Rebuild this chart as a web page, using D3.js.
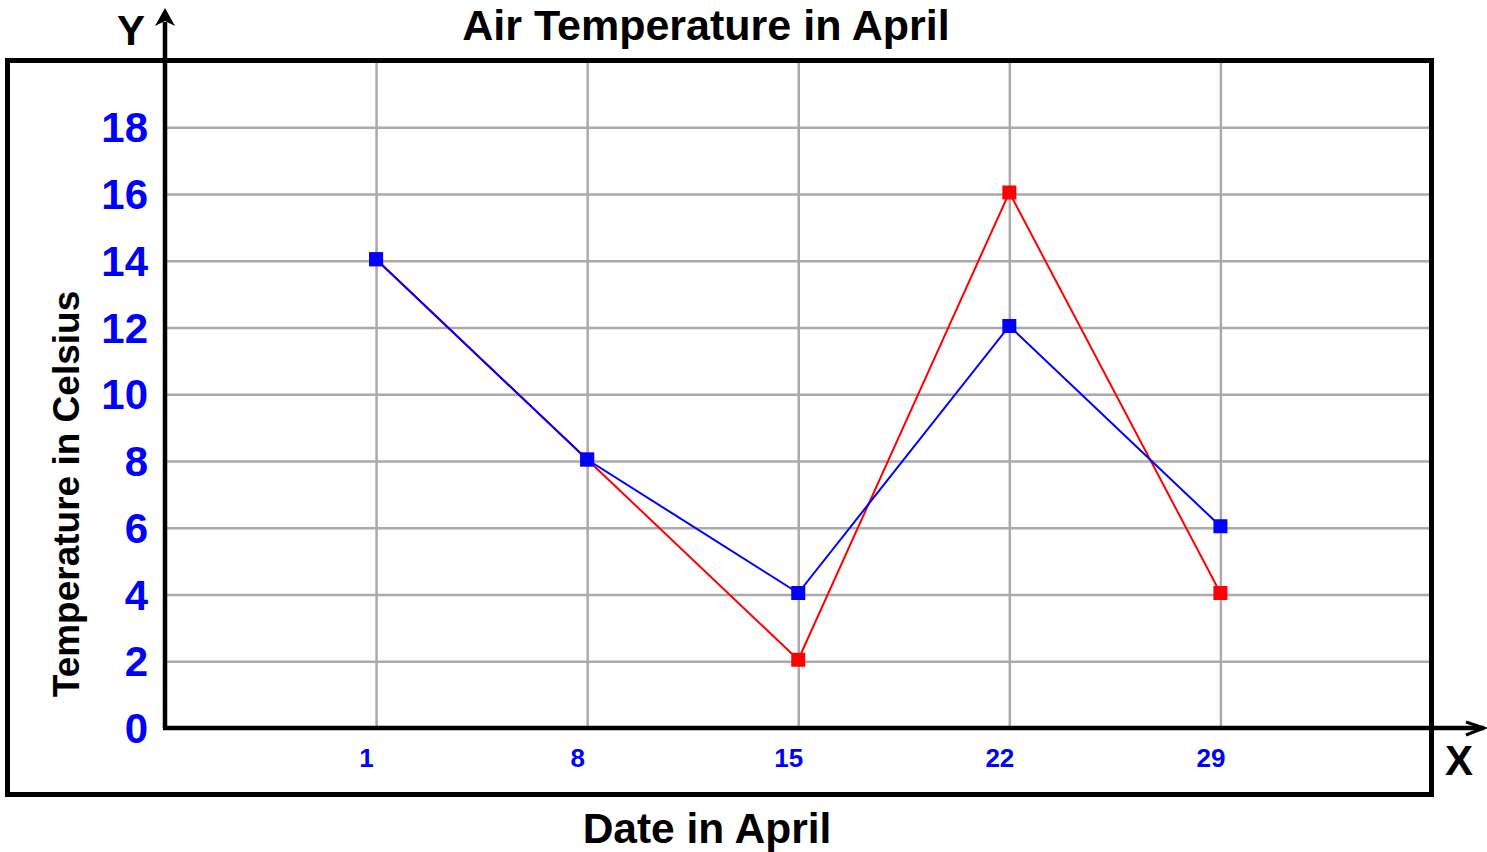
<!DOCTYPE html>
<html>
<head>
<meta charset="utf-8">
<script src="https://cdn.jsdelivr.net/npm/d3@7"></script>
<style>
  body { margin: 0; background: #fff; }
  svg { font-family: "Liberation Sans", Arial, sans-serif; font-weight: bold; }
</style>
</head>
<body>
<svg width="1487" height="852"></svg>
<script>
  const days = [1, 8, 15, 22, 29];
  const redTemps = [14, 8, 2, 16, 4];
  const blueTemps = [14, 8, 4, 12, 6];
  const yTicks = [0, 2, 4, 6, 8, 10, 12, 14, 16, 18];
  const gridDays = [1, 8, 15, 22, 29];

  const titleText = 'Air Temperature in April';
  const xAxisLabelText = 'Date in April';
  const yAxisLabelText = 'Temperature in Celsius';

  const svg = d3.select('svg');

  const plotLeft = 165, plotRight = 1431.5, plotTop = 60.5, plotBottom = 728;

  const xScale = d3.scaleLinear().domain([-6, 36]).range([plotLeft, plotRight]);
  const yScale = d3.scaleLinear().domain([0, 20]).range([plotBottom, plotTop]);

  // grid
  const gridX = svg.append('g')
    .attr('transform', `translate(0,${plotBottom})`)
    .call(d3.axisBottom(xScale).tickValues(gridDays).tickSize(-(plotBottom - plotTop)).tickFormat(''));
  gridX.select('.domain').remove();
  gridX.selectAll('.tick line').attr('stroke', '#aaa').attr('stroke-width', 2.5);

  const gridY = svg.append('g')
    .attr('transform', `translate(${plotLeft},0)`)
    .call(d3.axisLeft(yScale).tickValues(yTicks.filter(d => d > 0)).tickSize(-(plotRight - plotLeft)).tickFormat(''));
  gridY.select('.domain').remove();
  gridY.selectAll('.tick line').attr('stroke', '#aaa').attr('stroke-width', 2.5);

  // frame
  svg.append('rect')
    .attr('x', 7.5).attr('y', plotTop)
    .attr('width', plotRight - 7.5).attr('height', 794.5 - plotTop)
    .attr('fill', 'none').attr('stroke', '#000').attr('stroke-width', 5);

  // tick labels
  const yAxisG = svg.append('g')
    .attr('transform', `translate(${plotLeft},0)`)
    .call(d3.axisLeft(yScale).tickValues(yTicks).tickSize(0).tickPadding(17));
  yAxisG.select('.domain').remove();
  yAxisG.selectAll('text')
    .attr('fill', '#0000ff').style('font-size', '42px').style('font-weight', 'bold')
    .attr('dy', '0.35em');

  const xAxisG = svg.append('g')
    .attr('transform', `translate(0,${plotBottom})`)
    .call(d3.axisBottom(xScale).tickValues(days).tickSize(0).tickPadding(21));
  xAxisG.select('.domain').remove();
  xAxisG.selectAll('text')
    .attr('fill', '#0000ff').style('font-size', '26px').style('font-weight', 'bold')
    .attr('dx', -10);

  // axes lines with arrows
  svg.append('line')
    .attr('x1', plotLeft).attr('y1', plotBottom).attr('x2', plotLeft).attr('y2', 22)
    .attr('stroke', '#000').attr('stroke-width', 4.5);
  svg.append('path')
    .attr('d', `M${plotLeft},8 L${plotLeft + 10},26 L${plotLeft},21 L${plotLeft - 10},26 Z`)
    .attr('fill', '#000');
  svg.append('line')
    .attr('x1', plotLeft - 2).attr('y1', plotBottom).attr('x2', 1484).attr('y2', plotBottom)
    .attr('stroke', '#000').attr('stroke-width', 4.5);
  svg.append('path')
    .attr('d', `M1466,${plotBottom - 6} L1484,${plotBottom} L1466,${plotBottom + 7}`)
    .attr('fill', 'none').attr('stroke', '#000').attr('stroke-width', 3);

  // series
  const line = d3.line().x(d => xScale(d[0])).y(d => yScale(d[1]) - 1.5);
  const series = [
    { color: '#ff0000', values: redTemps },
    { color: '#0000ff', values: blueTemps }
  ];
  series.forEach(s => {
    const pts = days.map((d, i) => [d, s.values[i]]);
    svg.append('path')
      .attr('d', line(pts))
      .attr('fill', 'none').attr('stroke', s.color).attr('stroke-width', 2);
    svg.append('g').selectAll('rect').data(pts)
      .enter().append('rect')
        .attr('x', d => xScale(d[0]) - 7)
        .attr('y', d => yScale(d[1]) - 8.5)
        .attr('width', 14).attr('height', 14)
        .attr('fill', s.color);
  });

  // labels
  svg.append('text')
    .attr('x', 706).attr('y', 40)
    .attr('text-anchor', 'middle').style('font-size', '43px')
    .text(titleText);
  svg.append('text')
    .attr('x', 707).attr('y', 843)
    .attr('text-anchor', 'middle').style('font-size', '42.5px')
    .text(xAxisLabelText);
  svg.append('text')
    .attr('transform', 'translate(79,494) rotate(-90)')
    .attr('text-anchor', 'middle').style('font-size', '37px')
    .text(yAxisLabelText);
  svg.append('text')
    .attr('x', 131).attr('y', 45)
    .attr('text-anchor', 'middle').style('font-size', '42px')
    .text('Y');
  svg.append('text')
    .attr('x', 1459).attr('y', 775)
    .attr('text-anchor', 'middle').style('font-size', '42px')
    .text('X');
</script>
</body>
</html>
